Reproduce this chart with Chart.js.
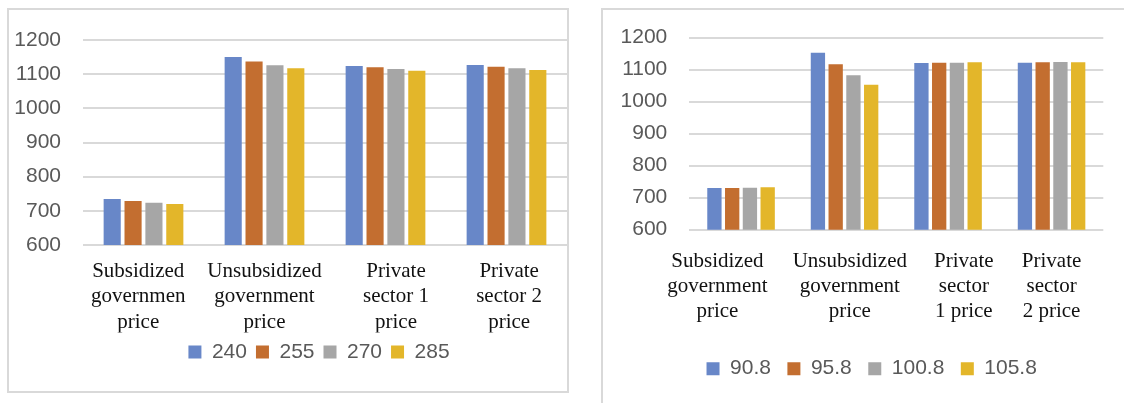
<!DOCTYPE html>
<html>
<head>
<meta charset="utf-8">
<title>Price by scenario</title>
<script src="https://cdn.jsdelivr.net/npm/chart.js@4.4.1/dist/chart.umd.min.js"></script>
<style>
  html, body { margin: 0; padding: 0; background: #fff; }
  body { width: 1124px; height: 403px; position: relative; overflow: hidden; }
  .frame { position: absolute; border: 2px solid #d9d9d9; box-sizing: border-box; }
  #frameLeft { left: 7px; top: 8px; width: 562px; height: 385px; }
  #frameRight { left: 601px; top: 8px; width: 540px; height: 420px; }
  canvas { position: absolute; top: 0; }
  #chartLeft { left: 0; }
  #chartRight { left: 590px; }
</style>
</head>
<body>
<div class="frame" id="frameLeft"></div>
<div class="frame" id="frameRight"></div>
<canvas id="chartLeft" width="580" height="403"></canvas>
<canvas id="chartRight" width="534" height="403"></canvas>

<script>
// left panel
const leftCategories = [
  ["Subsidized", "governmen", "price"],
  ["Unsubsidized", "government", "price"],
  ["Private", "sector 1", "price"],
  ["Private", "sector 2", "price"],
];
const leftSeries = ["240", "255", "270", "285"];
const left240 = [735, 1150, 1124, 1127];
const left255 = [729, 1137, 1120, 1122];
const left270 = [724, 1126, 1115, 1117];
const left285 = [720, 1117, 1110, 1112];

// right panel
const rightCategories = [
  ["Subsidized", "government", "price"],
  ["Unsubsidized", "government", "price"],
  ["Private", "sector", "1 price"],
  ["Private", "sector", "2 price"],
];
const rightSeries = ["90.8", "95.8", "100.8", "105.8"];
const right908 = [730, 1153, 1121, 1122];
const right958 = [730, 1117, 1122, 1123];
const right1008 = [731, 1083, 1122, 1124];
const right1058 = [733, 1053, 1123, 1123];

const yTicks = [600, 700, 800, 900, 1000, 1100, 1200];

const seriesColors = ["#6887c8", "#c36e30", "#a6a6a6", "#e3b62a"];
const tickFont = { family: "'Liberation Sans', Arial, sans-serif", size: 21 };
const categoryFont = { family: "'Liberation Serif', 'Times New Roman', serif", size: 21, lineHeight: 1.2 };

// nudges wrapped category labels sideways by padding each line with spaces
// (negative = trailing spaces, label moves left)
function nudge(lines, spaces) {
  const pad = " ".repeat(Math.abs(spaces));
  return lines.map(function (line) {
    return spaces < 0 ? line + pad : pad + line;
  });
}

// keeps the legend centred on a given x instead of the full canvas width
const legendCenter = {
  id: "legendCenter",
  afterLayout: function (chart, args, opts) {
    const legend = chart.legend;
    if (!legend || opts.x == null) return;
    const w = legend.right - legend.left;
    legend.left = opts.x - w / 2;
    legend.right = legend.left + w;
  },
};

function buildDatasets(names, values, barPct, catPct) {
  return names.map(function (name, i) {
    return {
      label: name,
      data: values[i],
      backgroundColor: seriesColors[i],
      borderWidth: 0,
      barPercentage: barPct,
      categoryPercentage: catPct,
    };
  });
}

function buildOptions(p) {
  return {
    responsive: false,
    devicePixelRatio: 1,
    animation: false,
    layout: {
      padding: { left: 0, right: p.padRight, top: p.padTop, bottom: p.padBottom },
    },
    plugins: {
      tooltip: { enabled: false },
      legendCenter: { x: p.legendX },
      legend: {
        position: "bottom",
        labels: {
          boxWidth: 13,
          boxHeight: 13,
          padding: p.legendPadding,
          color: "#595959",
          font: tickFont,
        },
      },
    },
    scales: {
      x: {
        grid: { display: false, drawTicks: false },
        border: { display: false },
        ticks: {
          color: "#111",
          font: categoryFont,
          padding: p.xTickPadding,
          maxRotation: 0,
          minRotation: 0,
          autoSkip: false,
          callback: function (value, index) {
            return nudge(p.categories[index], p.labelNudge[index]);
          },
        },
        afterFit: function (scale) {
          scale.height = p.xHeight;
        },
      },
      y: {
        min: 600,
        max: 1200,
        border: { display: false },
        grid: { color: "#d9d9d9", lineWidth: 2, drawTicks: false },
        afterBuildTicks: function (scale) {
          scale.ticks = yTicks.map(function (v) { return { value: v }; });
        },
        ticks: {
          color: "#595959",
          font: tickFont,
          padding: 22,
          callback: function (value) {
            return String(value);
          },
        },
        afterFit: function (scale) {
          scale.width = p.yWidth;
        },
      },
    },
  };
}

document.addEventListener("DOMContentLoaded", function () {
  new Chart(document.getElementById("chartLeft"), {
    type: "bar",
    data: {
      labels: leftCategories,
      datasets: buildDatasets(leftSeries, [left240, left255, left270, left285], 0.82, 0.69),
    },
    options: buildOptions({
      categories: leftCategories,
      padRight: 13, padTop: 40, padBottom: 30.5,
      yWidth: 83, xHeight: 87.5, xTickPadding: 14, legendPadding: 9,
      legendX: 319, labelNudge: [-2, 0, 4, 1],
    }),
    plugins: [legendCenter],
  });

  new Chart(document.getElementById("chartRight"), {
    type: "bar",
    data: {
      labels: rightCategories,
      datasets: buildDatasets(rightSeries, [right908, right958, right1008, right1058], 0.806, 0.686),
    },
    options: buildOptions({
      categories: rightCategories,
      padRight: 20.7, padTop: 37.7, padBottom: 13.8,
      yWidth: 99.3, xHeight: 112, xTickPadding: 18.7, legendPadding: 16.5,
      legendX: 281.7, labelNudge: [-9, 2, 6, 0],
    }),
    plugins: [legendCenter],
  });
});
</script>
</body>
</html>
